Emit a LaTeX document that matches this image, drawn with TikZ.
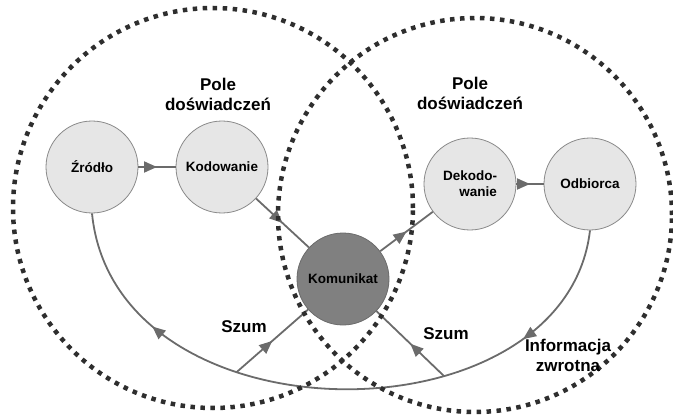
\documentclass[tikz,border=0pt]{standalone}
\usepackage{fontspec}
\setmainfont{Liberation Sans}
\usetikzlibrary{arrows.meta,decorations.markings}
\definecolor{linegray}{HTML}{6B6B6B}
\definecolor{nodegray}{HTML}{E6E6E6}
\definecolor{msggray}{HTML}{808080}
\definecolor{dotgray}{HTML}{2E2E2E}

\begin{document}
\begin{tikzpicture}[x=1pt, y=-1pt,
    field/.style={draw=dotgray, line width=4.5pt, dash pattern=on 4.5pt off 5.5pt},
    stage/.style={circle, draw=linegray!80, line width=0.8pt, fill=nodegray, minimum size=92pt, inner sep=0pt,
        font=\bfseries\fontsize{13.5}{16}\selectfont},
    conn/.style={draw=linegray, color=linegray, line width=1.8pt},
    midarrow/.style={postaction={decorate}, decoration={markings,
        mark=at position #1 with {\arrow{Triangle[length=13pt,width=11pt]}}}},
    midarrow/.default=0.5,
    caption/.style={font=\bfseries\fontsize{17}{20}\selectfont, align=center}
]
    \useasboundingbox (0, 0) rectangle (673, 420);

    % nodes
    \node (src) at (92, 167) [stage] {Źródło};
    \node (enc) at (222, 167) [stage] {Kodowanie};
    \node (msg) at (343, 279) [stage, fill=msggray, draw=linegray] {Komunikat};
    \node (dec) at (470, 184) [stage, align=right] {Dekodo-\\wanie};
    \node (dst) at (590, 184) [stage] {Odbiorca};

    % flow
    \draw[conn, midarrow] (src) -- (enc);
    \draw[conn, midarrow] (enc) -- (msg);
    \draw[conn, midarrow] (msg) -- (dec);
    \draw[conn, midarrow] (dec) -- (dst);

    % feedback
    \draw[conn, postaction={decorate}, decoration={markings,
        mark=at position 0.2 with {\arrow{Triangle[length=13pt,width=11pt]}},
        mark=at position 0.8 with {\arrow{Triangle[length=13pt,width=11pt]}}}]
        (dst.south) .. controls (565, 445) and (115, 445) .. (src.south)
        coordinate[pos=0.35] (nr) coordinate[pos=0.65] (nl);

    % noise
    \draw[conn, midarrow] (nl) -- (msg);
    \draw[conn, midarrow] (nr) -- (msg);

    % fields of experience
    \draw[field] (213, 208) circle[radius=200pt];
    \draw[field] (475, 215) circle[radius=197pt];

    \node (fl) at (218, 94) [caption] {Pole\\doświadczeń};
    \node (fr) at (470, 93) [caption] {Pole\\doświadczeń};
    \node (szl) at (244, 327) [caption] {Szum};
    \node (szr) at (446, 334) [caption] {Szum};
    \node (fb) at (568, 355) [caption] {Informacja\\zwrotna};
\end{tikzpicture}
\end{document}
